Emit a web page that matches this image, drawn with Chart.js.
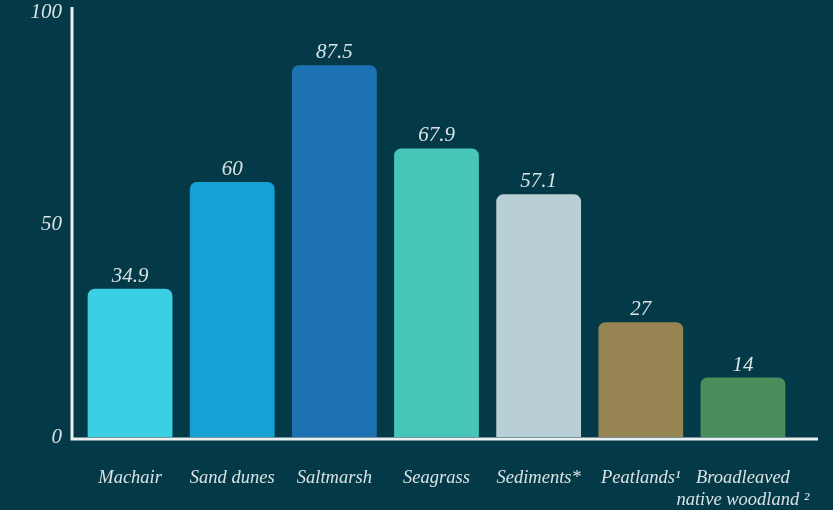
<!DOCTYPE html>
<html>
<head>
<meta charset="utf-8">
<script src="https://cdn.jsdelivr.net/npm/chart.js@4/dist/chart.umd.min.js"></script>
<style>
  html, body { margin: 0; padding: 0; background: #043947; }
  #wrap { width: 833px; height: 510px; position: relative; }
</style>
</head>
<body>
<div id="wrap"><canvas id="chart"></canvas></div>
<script>
const habitats = ["Machair", "Sand dunes", "Saltmarsh", "Seagrass", "Sediments*", "Peatlands\u00B9", ["Broadleaved", "native woodland \u00B2"]];
const values = [34.9, 60, 87.5, 67.9, 57.1, 27, 14];
const barColors = ["#3bcfe3", "#14a2d4", "#1d72b4", "#47c6b8", "#b9cfd6", "#968552", "#4a8e5c"];
const yTicks = [0, 50, 100];

const textColor = "#d9e2e4";
const serif = "'Liberation Serif', 'DejaVu Serif', serif";

const valueLabels = {
  id: "valueLabels",
  afterDatasetsDraw(chart) {
    const ctx = chart.ctx;
    const meta = chart.getDatasetMeta(0);
    ctx.save();
    ctx.fillStyle = textColor;
    ctx.font = "italic 21px " + serif;
    ctx.textAlign = "center";
    ctx.textBaseline = "bottom";
    meta.data.forEach((bar, i) => {
      ctx.fillText(String(values[i]), bar.x, bar.y - 2);
    });
    ctx.restore();
  }
};

const axisLines = {
  id: "axisLines",
  afterDraw(chart) {
    const ctx = chart.ctx;
    const a = chart.chartArea;
    ctx.save();
    ctx.strokeStyle = "#e9f0f1";
    ctx.lineWidth = 3;
    ctx.beginPath();
    ctx.moveTo(a.left - 7, a.top - 5);
    ctx.lineTo(a.left - 7, a.bottom + 2);
    ctx.lineTo(a.right + 24, a.bottom + 2);
    ctx.stroke();
    ctx.restore();
  }
};

new Chart(document.getElementById("chart").getContext("2d"), {
  type: "bar",
  data: {
    labels: habitats,
    datasets: [{
      data: values,
      backgroundColor: barColors,
      borderRadius: { topLeft: 7, topRight: 7 },
      borderSkipped: "bottom",
      barPercentage: 0.83,
      categoryPercentage: 1,
    }]
  },
  options: {
    responsive: true,
    maintainAspectRatio: false,
    animation: false,
    layout: { padding: { top: 12, right: 39, left: 0, bottom: 0 } },
    plugins: {
      legend: { display: false },
      tooltip: { enabled: false },
    },
    scales: {
      x: {
        grid: { display: false, drawTicks: false },
        border: { display: false },
        ticks: {
          color: textColor,
          font: { family: serif, style: "italic", size: 18.5 },
          padding: 30,
          maxRotation: 0,
          autoSkip: false,
        },
        afterFit(scale) {
          scale.height = 73;
          scale.paddingLeft = 0;
          scale.paddingRight = 0;
        },
      },
      y: {
        min: 0,
        max: 100,
        grid: { display: false, drawTicks: false },
        border: { display: false },
        afterBuildTicks(scale) { scale.ticks = yTicks.map(v => ({ value: v })); },
        ticks: {
          color: textColor,
          font: { family: serif, style: "italic", size: 21 },
          padding: 17,
        },
        afterFit(scale) {
          scale.width = 79;
          scale.paddingTop = 0;
          scale.paddingBottom = 0;
        },
      }
    }
  },
  plugins: [valueLabels, axisLines]
});
</script>
</body>
</html>
